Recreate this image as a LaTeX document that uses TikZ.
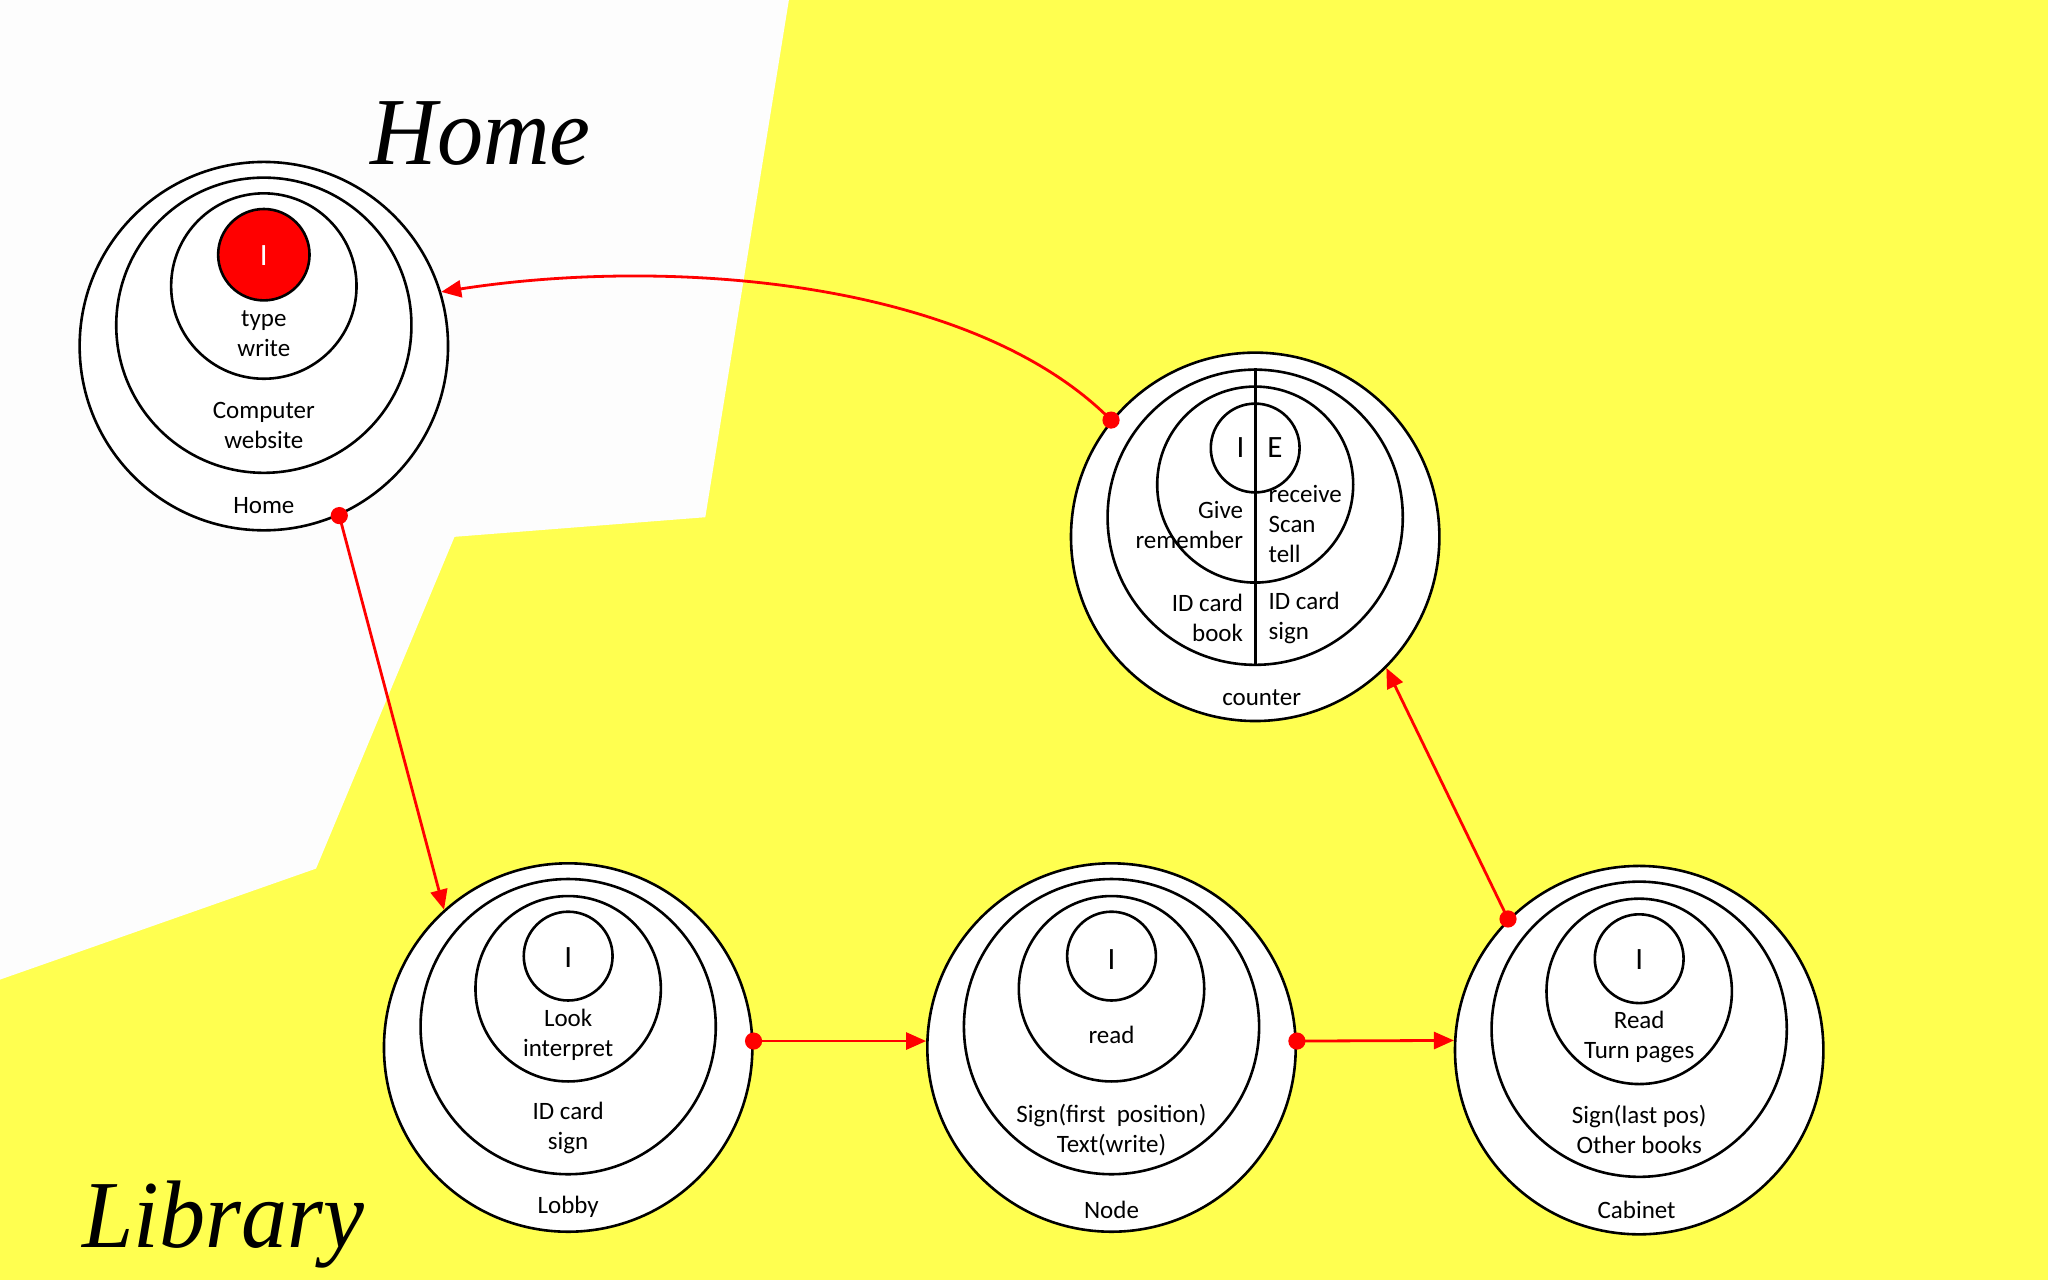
\documentclass[tikz,border=0pt]{standalone}
\usepackage{fontspec}
\setmainfont{Carlito}
\newfontfamily\titlefont{Liberation Serif}
\usetikzlibrary{arrows.meta}
\definecolor{bgyellow}{RGB}{255,255,80}
\definecolor{bgwhite}{RGB}{253,253,253}
\definecolor{arrowred}{RGB}{255,0,0}
\begin{document}
\begin{tikzpicture}[x=0.65306pt,y=-0.65306pt,
  ring/.style={circle,draw=black,line width=1.3pt,fill=white,inner sep=0pt},
  outerring/.style={ring,minimum size=184.2pt},
  midring/.style={ring,minimum size=147.6pt},
  innerring/.style={ring,minimum size=92.7pt},
  corering/.style={ring,minimum size=44.4pt},
  lbl/.style={font=\fontsize{12.5}{15}\selectfont,align=center,inner sep=0pt},
  big/.style={font=\fontsize{15.5}{18}\selectfont,inner sep=0pt},
  link/.style={draw=arrowred,line width=1.4pt,-{Triangle[length=10pt,width=8.5pt]}},
  dot/.style={fill=arrowred},
  titletext/.style={font=\titlefont\itshape\fontsize{48}{56}\selectfont,inner sep=0pt,xscale=0.96}]
\useasboundingbox (0,0) rectangle (1568,980);
% background
\fill[bgyellow] (0,0) rectangle (1568,980);
\fill[bgwhite] (0,0) -- (604,0) -- (540,396) -- (348,411) -- (242,665) -- (0,750) -- cycle;

% titles
\node[titletext,anchor=base] (homeT) at (368,126) {Home};
\node[titletext,anchor=base] (libT) at (171,955) {Library};

% Home
\node[outerring] (homeO) at (202,265) {};
\node[midring] (homeM) at (202,249) {};
\node[innerring] (homeI) at (202,219) {};
\node[ring,fill=red,minimum size=45.7pt] (homeC) at (202,195) {};
\node[big,text=white] (homeCt) at (202,196) {I};
\node[lbl] (homeIt) at (202,255.5) {type\\write};
\node[lbl] (homeMt) at (202,326) {Computer\\website};
\node[lbl] (homeOt) at (202,387) {Home};

% counter
\node[outerring] (counterO) at (961,411) {};
\node[midring] (counterM) at (961,396) {};
\node[ring,minimum size=98pt] (counterI) at (961,371) {};
\node[corering] (counterC) at (961,343) {};
\draw[line width=1.3pt] (counterM.north) -- (counterM.south);
\node[big,anchor=east] (cI) at (953,343) {I};
\node[big,anchor=west] (cE) at (970,343) {E};
\node[lbl,anchor=east,align=right] (cGive) at (952,402) {Give\\remember};
\node[lbl,anchor=west,align=left] (cRec) at (971,401.5) {receive\\Scan\\tell};
\node[lbl,anchor=east,align=right] (cIdL) at (952,473) {ID card\\book};
\node[lbl,anchor=west,align=left] (cIdR) at (971,473.5) {ID card\\sign};
\node[lbl] (cName) at (966,534.5) {counter};

% Lobby
\node[outerring] (lobbyO) at (435,802) {};
\node[midring] (lobbyM) at (435,786) {};
\node[innerring] (lobbyI) at (435,757) {};
\node[corering] (lobbyC) at (435,732) {};
\node[big] (lobbyCt) at (435,733) {I};
\node[lbl] (lobbyIt) at (435,792) {Look\\interpret};
\node[lbl] (lobbyMt) at (435,863.5) {ID card\\sign};
\node[lbl] (lobbyOt) at (435,924) {Lobby};

% Node
\node[outerring] (nodeO) at (851,802) {};
\node[midring] (nodeM) at (851,786) {};
\node[innerring] (nodeI) at (851,757) {};
\node[corering] (nodeC) at (851,732) {};
\node[big] (nodeCt) at (851,735) {I};
\node[lbl] (nodeIt) at (851,792) {read};
\node[lbl] (nodeMt) at (851,865.5) {Sign(first~~position)\\Text(write)};
\node[lbl] (nodeOt) at (851,926) {Node};

% Cabinet
\node[outerring] (cabO) at (1255,804) {};
\node[midring] (cabM) at (1255,788) {};
\node[innerring] (cabI) at (1255,759) {};
\node[corering] (cabC) at (1255,734) {};
\node[big] (cabCt) at (1255,735) {I};
\node[lbl] (cabIt) at (1255,794) {Read\\Turn pages};
\node[lbl] (cabMt) at (1255,865) {Sign(last pos)\\Other books};
\node[lbl] (cabOt) at (1253,926) {Cabinet};

% connectors
\coordinate (d1) at (counterO.141);
\coordinate (d2) at (homeO.-66);
\coordinate (d3) at (lobbyO.2);
\coordinate (d4) at (nodeO.2);
\coordinate (d5) at (cabO.135);
\draw[link] (d1) .. controls (745,215) and (515,196) .. (homeO.17);
\draw[link] (d2) -- (lobbyO.132);
\draw[link] (d3) -- (nodeO.178);
\draw[link] (d4) -- (cabO.177);
\draw[link] (d5) -- (counterO.-45);
\foreach \d in {d1,d2,d3,d4,d5} \fill[dot] (\d) circle[radius=4.3pt];
\end{tikzpicture}
\end{document}
